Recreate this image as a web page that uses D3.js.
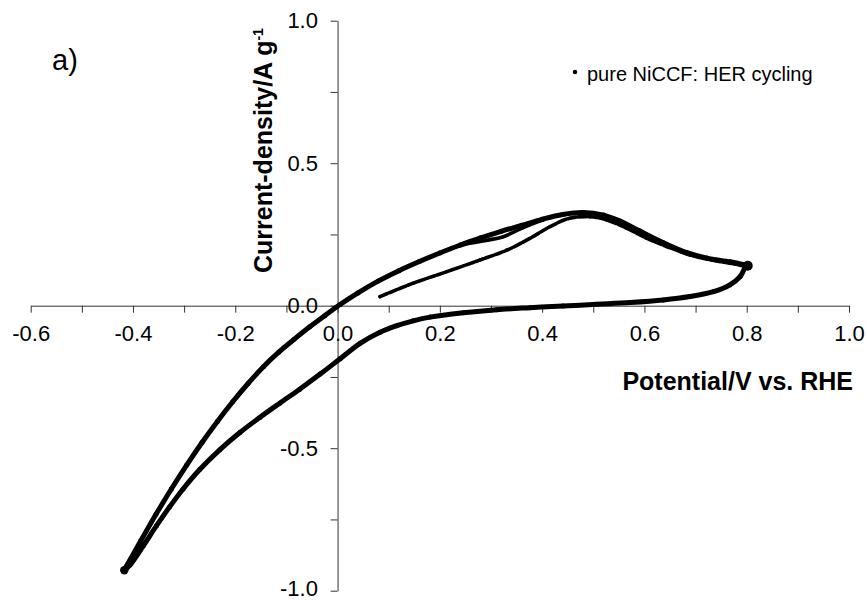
<!DOCTYPE html>
<html>
<head>
<meta charset="utf-8">
<script src="https://cdn.jsdelivr.net/npm/d3@7"></script>
<style>
  html, body { margin: 0; padding: 0; background: #fff; }
  svg { display: block; }
  text { font-family: Arial, "Liberation Sans", sans-serif; fill: #000; }
</style>
</head>
<body>
<svg id="chart" width="867" height="600"></svg>
<script>
// ---- Data ----
// First anodic sweep (starts at 0.08 V)
const sweep1Potential = [0.083, 0.148, 0.213, 0.278, 0.331, 0.376, 0.415, 0.454, 0.494, 0.526, 0.564, 0.603, 0.646, 0.689, 0.732, 0.777, 0.801];
const sweep1Current   = [0.032, 0.079, 0.119, 0.160, 0.195, 0.236, 0.277, 0.307, 0.312, 0.301, 0.273, 0.238, 0.206, 0.178, 0.160, 0.146, 0.136];

// Cathodic sweep (0.8 V -> -0.42 V)
const cathodicPotential = [0.797, 0.787, 0.767, 0.735, 0.689, 0.637, 0.572, 0.507, 0.441, 0.376, 0.311, 0.246, 0.181, 0.148, 0.116, 0.083, 0.044, 0.005, -0.034, -0.074, -0.113, -0.152, -0.191, -0.230, -0.269, -0.302, -0.328, -0.354, -0.380, -0.406, -0.418];
const cathodicCurrent   = [0.137, 0.102, 0.073, 0.049, 0.032, 0.020, 0.011, 0.005, -0.001, -0.007, -0.014, -0.025, -0.040, -0.053, -0.070, -0.093, -0.132, -0.186, -0.240, -0.293, -0.342, -0.392, -0.445, -0.505, -0.574, -0.643, -0.705, -0.772, -0.843, -0.910, -0.930];

// Return anodic sweep (-0.42 V -> 0.8 V)
const anodicPotential = [-0.418, -0.385, -0.355, -0.325, -0.295, -0.265, -0.235, -0.205, -0.175, -0.145, -0.115, -0.085, -0.055, -0.025, 0.005, 0.040, 0.080, 0.120, 0.160, 0.200, 0.240, 0.280, 0.320, 0.360, 0.400, 0.440, 0.480, 0.520, 0.552, 0.591, 0.637, 0.683, 0.722, 0.767, 0.797];
const anodicCurrent   = [-0.930, -0.826, -0.732, -0.643, -0.559, -0.480, -0.406, -0.337, -0.273, -0.214, -0.163, -0.118, -0.075, -0.035, 0.004, 0.045, 0.087, 0.123, 0.155, 0.185, 0.213, 0.238, 0.261, 0.282, 0.303, 0.320, 0.327, 0.318, 0.297, 0.262, 0.221, 0.186, 0.167, 0.154, 0.143];

// Slight split of a later cycle near 0.3 V
const cycle2Potential = [0.226, 0.258, 0.290, 0.324, 0.363, 0.402];
const cycle2Current   = [0.203, 0.219, 0.229, 0.242, 0.274, 0.301];

const xTicks = [-0.6, -0.5, -0.4, -0.3, -0.2, -0.1, 0.0, 0.1, 0.2, 0.3, 0.4, 0.5, 0.6, 0.7, 0.8, 0.9, 1.0];
const yTicks = [-1.0, -0.75, -0.5, -0.25, 0.0, 0.25, 0.5, 0.75, 1.0];
const seriesLabel = "pure NiCCF: HER cycling";

// ---- Scales ----
const svg = d3.select("#chart");
const x = d3.scaleLinear().domain([-0.6, 1.0]).range([30.7, 849]);
const y = d3.scaleLinear().domain([-1.0, 1.0]).range([590.7, 20.7]);

const zip = (a, b) => a.map((v, i) => [v, b[i]]);
const fmt = d => d3.format(".1f")(d).replace("\u2212", "-");

// ---- Axes ----
const xAxis = d3.axisBottom(x)
  .tickValues(xTicks)
  .tickSize(7).tickSizeOuter(0).tickPadding(13)
  .tickFormat(d => (Math.round(d * 10) % 2 === 0) ? fmt(d) : "");
const gx = svg.append("g").attr("transform", `translate(0,${y(0)})`).call(xAxis);

const yAxis = d3.axisLeft(y)
  .tickValues(yTicks)
  .tickSize(7).tickSizeOuter(0).tickPadding(12.6)
  .tickFormat(d => (Math.round(d * 100) % 50 === 0) ? fmt(d) : "");
const gy = svg.append("g").attr("transform", `translate(${x(0)},0)`).call(yAxis);

[gx, gy].forEach(g => {
  g.selectAll("path.domain").attr("stroke", "#333").attr("stroke-width", 1);
  g.selectAll(".tick line").attr("stroke", "#333").attr("stroke-width", 1);
  g.selectAll(".tick text").attr("font-size", 22).attr("font-family", "Arial, 'Liberation Sans', sans-serif").attr("fill", "#000");
});
// keep the bottom label inside the frame
gy.selectAll(".tick text").filter(d => d === -1.0).attr("dy", "0.22em");

// ---- Data marks ----
const line = d3.line().x(d => x(d[0])).y(d => y(d[1])).curve(d3.curveCatmullRom.alpha(0.5));
const plot = svg.append("g");

function drawSeries(px, py, width, dash, r) {
  const pts = zip(px, py);
  plot.append("path").datum(pts)
    .attr("d", line)
    .attr("fill", "none").attr("stroke", "#000")
    .attr("stroke-width", width)
    .attr("stroke-linecap", "round").attr("stroke-linejoin", "round")
    .attr("stroke-dasharray", dash || null);
  plot.selectAll(null).data(pts).enter().append("circle")
    .attr("cx", d => x(d[0])).attr("cy", d => y(d[1])).attr("r", r).attr("fill", "#000");
}

drawSeries(sweep1Potential, sweep1Current, 3.6, "8,2.2", 1.8);
drawSeries(cathodicPotential, cathodicCurrent, 5, null, 2.5);
drawSeries(anodicPotential, anodicCurrent, 5, null, 2.5);
drawSeries(cycle2Potential, cycle2Current, 3.6, null, 1.8);

// end blobs
plot.append("circle").attr("cx", x(-0.417)).attr("cy", y(-0.928)).attr("r", 4.2).attr("fill", "#000");
plot.append("circle").attr("cx", x(0.802)).attr("cy", y(0.140)).attr("r", 5).attr("fill", "#000");

// ---- Text ----
svg.append("text").attr("x", 52).attr("y", 70).attr("font-size", 29).text("a)");

svg.append("text").attr("x", 853).attr("y", 390).attr("text-anchor", "end")
  .attr("font-size", 25).attr("font-weight", "bold").text("Potential/V vs. RHE");

const yt = svg.append("text").attr("transform", "translate(272,273) rotate(-90)")
  .attr("font-size", 25).attr("font-weight", "bold");
yt.append("tspan").text("Current-density/A g");
yt.append("tspan").attr("dy", -9).attr("font-size", 14).text("-1");

// legend
svg.append("circle").attr("cx", 575).attr("cy", 72).attr("r", 2.2).attr("fill", "#000");
svg.append("text").attr("x", 587).attr("y", 81).attr("font-size", 20).text(seriesLabel);
</script>
</body>
</html>
